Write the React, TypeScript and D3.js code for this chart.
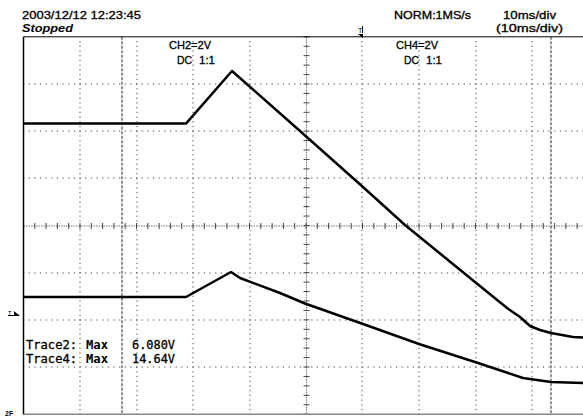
import React from "react";
import * as d3 from "d3";

const W = 583;
const H = 417;

// time in divisions (0..10), voltage in divisions (-4..4)
const trace2T = [0, 2.876, 3.69, 4.894, 6.009, 6.752, 7.991, 8.558, 8.788, 8.965, 9.142, 9.336, 9.726, 9.903, 10];
const trace2V = [2.16, 2.16, 3.275, 2.003, 0.816, 0.011, -1.198, -1.749, -1.94, -2.131, -2.215, -2.279, -2.364, -2.374, -2.38];
const trace4T = [0, 2.876, 3.673, 3.832, 4.54, 4.982, 6.009, 7.0, 7.991, 8.841, 9.336, 9.903, 10];
const trace4V = [-1.516, -1.516, -0.986, -1.113, -1.431, -1.653, -2.088, -2.512, -2.894, -3.233, -3.318, -3.339, -3.34];

const gridXDivs = [1, 2, 3, 4, 6, 7, 8, 9];
const gridYDivs = [-3, -2, -1, 1, 2, 3];
const cursorDivs = [1.743, 9.336];

const headerLeft = ["2003/12/12  12:23:45", "Stopped"];
const headerRight = ["NORM:1MS/s", "10ms/div", "(10ms/div)"];
const chLabels = [
  { name: "CH2=2V", coupling: "DC", ratio: "1:1" },
  { name: "CH4=2V", coupling: "DC", ratio: "1:1" },
];
const measLabels = ["Trace2:", "Trace4:"];
const measKinds = ["Max", "Max"];
const measValues = ["6.080V", "14.64V"];

export default function App() {
  const x = d3.scaleLinear().domain([0, 10]).range([23.5, 588.5]);
  const y = d3.scaleLinear().domain([-4, 4]).range([414.2, 36.8]);
  const line = d3
    .line<[number, number]>()
    .x((d) => x(d[0]))
    .y((d) => y(d[1]))
    .curve(d3.curveLinear);

  const t2: [number, number][] = trace2T.map((t, i) => [t, trace2V[i]]);
  const t4: [number, number][] = trace4T.map((t, i) => [t, trace4V[i]]);

  const dotsV = d3.range(0, 80).map((i) => -4 + i * 0.1);
  const dotsH = d3.range(0, 100).map((i) => i * 0.1);
  const ticksH = d3.range(0, 51).map((i) => i * 0.2);
  const ticksV = d3.range(0, 41).map((i) => -4 + i * 0.2);

  const font = "'Liberation Sans', Arial, sans-serif";
  const mono = "'DejaVu Sans Mono', monospace";
  const bold = { stroke: "#000", strokeWidth: 0.3 };

  return (
    <svg
      width={W}
      height={H}
      style={{ position: "absolute", left: 0, top: 0, background: "#fff" }}
    >
      <rect x={0} y={0} width={W} height={H} fill="#fff" />
      {/* dotted grid */}
      {gridXDivs.map((g) =>
        dotsV.map((v, i) => (
          <rect key={`gx${g}-${i}`} x={Math.round(x(g)) - 0.5} y={y(v) - 0.5} width={1} height={1.2} fill="#444" />
        ))
      )}
      {gridYDivs.map((g) =>
        dotsH.map((t, i) => (
          <rect key={`gy${g}-${i}`} x={x(t) - 0.5} y={Math.round(y(g)) - 0.5} width={1.2} height={1} fill="#444" />
        ))
      )}
      {/* center axes */}
      <line x1={x(0)} x2={x(10)} y1={Math.round(y(0))} y2={Math.round(y(0))} stroke="#777" strokeWidth={1} strokeDasharray="1.5,1" />
      <line x1={Math.round(x(5)) + 0.5} x2={Math.round(x(5)) + 0.5} y1={y(4)} y2={y(-4)} stroke="#777" strokeWidth={1} strokeDasharray="1.5,1" />
      {ticksH.map((t, i) => (
        <line key={`th${i}`} x1={x(t)} x2={x(t)} y1={Math.round(y(0)) - 3} y2={Math.round(y(0)) + 3} stroke="#444" strokeWidth={1} />
      ))}
      {ticksV.map((v, i) => (
        <line key={`tv${i}`} x1={Math.round(x(5)) - 2.5} x2={Math.round(x(5)) + 3.5} y1={y(v)} y2={y(v)} stroke="#444" strokeWidth={1} />
      ))}
      {/* cursors */}
      {cursorDivs.map((c, i) => (
        <line key={`c${i}`} x1={x(c)} x2={x(c)} y1={y(4)} y2={y(-4)} stroke="#555" strokeWidth={1.3} strokeDasharray="3,1.5" />
      ))}
      {/* frame */}
      <line x1={x(0)} x2={x(10)} y1={y(4)} y2={y(4)} stroke="#000" strokeWidth={1} />
      <line x1={x(0)} x2={x(10)} y1={y(-4)} y2={y(-4)} stroke="#888" strokeWidth={1.5} />
      <line x1={x(0)} x2={x(0)} y1={y(4)} y2={y(-4)} stroke="#000" strokeWidth={1.5} />

      {/* traces */}
      <path d={line(t2) || ""} fill="none" stroke="#000" strokeWidth={2.5} strokeLinejoin="round" />
      <path d={line(t4) || ""} fill="none" stroke="#000" strokeWidth={2.5} strokeLinejoin="round" />

      {/* header */}
      <text x={22} y={19} fontFamily={font} fontSize={10.5} textLength={119} lengthAdjust="spacingAndGlyphs" fill="#000" {...bold}>
        {headerLeft[0]}
      </text>
      <text x={22} y={32} fontFamily={font} fontSize={10.5} fontStyle="italic" fontWeight="bold" textLength={51} lengthAdjust="spacingAndGlyphs" fill="#000">
        {headerLeft[1]}
      </text>
      <text x={394} y={19} fontFamily={font} fontSize={10.5} textLength={77} lengthAdjust="spacingAndGlyphs" fill="#000" {...bold}>
        {headerRight[0]}
      </text>
      <text x={503} y={19} fontFamily={font} fontSize={10.5} textLength={53} lengthAdjust="spacingAndGlyphs" fill="#000" {...bold}>
        {headerRight[1]}
      </text>
      <text x={496} y={32} fontFamily={font} fontSize={10.5} textLength={67} lengthAdjust="spacingAndGlyphs" fill="#000" {...bold}>
        {headerRight[2]}
      </text>
      {/* trigger marker top */}
      <g transform="translate(358,26)">
        <text x={0} y={7} fontFamily={font} fontSize={7} fill="#000">T</text>
        <line x1={4.5} x2={4.5} y1={0} y2={7} stroke="#000" strokeWidth={1} />
        <path d="M0,8 L5,8 L5,12 Z" fill="#000" />
      </g>
      {/* channel labels */}
      {chLabels.map((c, i) => {
        const cx = i === 0 ? 169 : 396;
        return (
          <g key={`ch${i}`}>
            <text x={cx} y={49} fontFamily={font} fontSize={11} textLength={42} lengthAdjust="spacingAndGlyphs" fill="#000" {...bold}>
              {c.name}
            </text>
            <text x={cx + 8} y={64} fontFamily={font} fontSize={11} textLength={15} lengthAdjust="spacingAndGlyphs" fill="#000" {...bold}>
              {c.coupling}
            </text>
            <text x={cx + 30} y={64} fontFamily={font} fontSize={11} textLength={16} lengthAdjust="spacingAndGlyphs" fill="#000" {...bold}>
              {c.ratio}
            </text>
          </g>
        );
      })}
      {/* measurements */}
      {measLabels.map((m, i) => (
        <g key={`m${i}`}>
          <text x={26} y={349 + i * 14} fontFamily={mono} fontSize={12} textLength={51} lengthAdjust="spacingAndGlyphs" fill="#000" {...bold}>
            {m}
          </text>
          <text x={86} y={349 + i * 14} fontFamily={mono} fontSize={12} textLength={22} lengthAdjust="spacingAndGlyphs" fontWeight="bold" fill="#000">
            {measKinds[i]}
          </text>
          <text x={132} y={349 + i * 14} fontFamily={mono} fontSize={12} textLength={43} lengthAdjust="spacingAndGlyphs" fill="#000" {...bold}>
            {measValues[i]}
          </text>
        </g>
      ))}
      {/* left side markers */}
      <g transform="translate(8,309)">
        <text x={0} y={6} fontFamily={font} fontSize={6} fill="#000">T</text>
        <line x1={0} x2={6} y1={6.5} y2={6.5} stroke="#000" strokeWidth={1} />
        <path d="M6,2 L12,7 L6,7 Z" fill="#000" />
      </g>
      <g transform="translate(5,409)">
        <text x={0} y={7} fontFamily={font} fontSize={7} fontWeight="bold" fill="#000">2F</text>
      </g>
    </svg>
  );
}
